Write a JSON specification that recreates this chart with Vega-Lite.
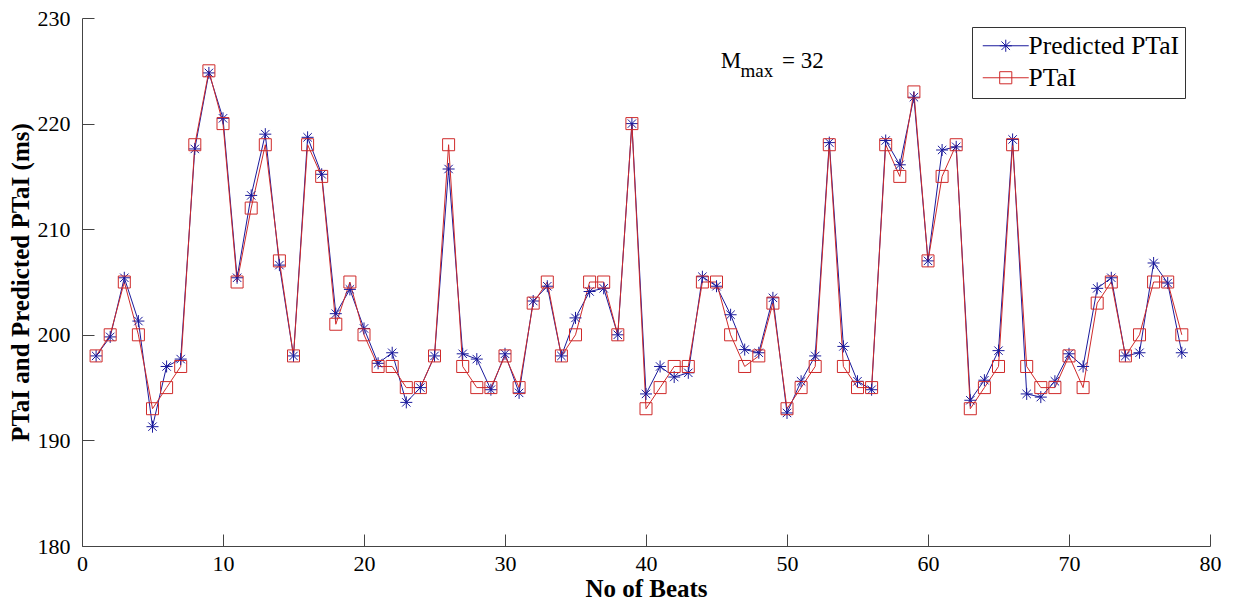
{
  "$schema": "https://vega.github.io/schema/vega-lite/v6.json",
  "width": 1128,
  "height": 528,
  "autosize": {"type": "none"},
  "padding": {"left": 82, "top": 18, "right": 24, "bottom": 64},
  "background": "white",
  "config": {"view": {"stroke": null}, "font": "Liberation Serif"},
  "datasets": {
    "beats": [
      {"beat": 1, "Predicted PTaI": 198, "PTaI": 198},
      {"beat": 2, "Predicted PTaI": 199.8, "PTaI": 200},
      {"beat": 3, "Predicted PTaI": 205.4, "PTaI": 205},
      {"beat": 4, "Predicted PTaI": 201.3, "PTaI": 200},
      {"beat": 5, "Predicted PTaI": 191.3, "PTaI": 193},
      {"beat": 6, "Predicted PTaI": 197, "PTaI": 195},
      {"beat": 7, "Predicted PTaI": 197.7, "PTaI": 197},
      {"beat": 8, "Predicted PTaI": 217.6, "PTaI": 218},
      {"beat": 9, "Predicted PTaI": 224.8, "PTaI": 225},
      {"beat": 10, "Predicted PTaI": 220.5, "PTaI": 220},
      {"beat": 11, "Predicted PTaI": 205.4, "PTaI": 205},
      {"beat": 12, "Predicted PTaI": 213.2, "PTaI": 212},
      {"beat": 13, "Predicted PTaI": 219, "PTaI": 218},
      {"beat": 14, "Predicted PTaI": 206.6, "PTaI": 207},
      {"beat": 15, "Predicted PTaI": 198, "PTaI": 198},
      {"beat": 16, "Predicted PTaI": 218.7, "PTaI": 218},
      {"beat": 17, "Predicted PTaI": 215.2, "PTaI": 215},
      {"beat": 18, "Predicted PTaI": 202, "PTaI": 201},
      {"beat": 19, "Predicted PTaI": 204.3, "PTaI": 205},
      {"beat": 20, "Predicted PTaI": 200.6, "PTaI": 200},
      {"beat": 21, "Predicted PTaI": 197.3, "PTaI": 197},
      {"beat": 22, "Predicted PTaI": 198.3, "PTaI": 197},
      {"beat": 23, "Predicted PTaI": 193.6, "PTaI": 195},
      {"beat": 24, "Predicted PTaI": 195, "PTaI": 195},
      {"beat": 25, "Predicted PTaI": 198, "PTaI": 198},
      {"beat": 26, "Predicted PTaI": 215.7, "PTaI": 218},
      {"beat": 27, "Predicted PTaI": 198.2, "PTaI": 197},
      {"beat": 28, "Predicted PTaI": 197.7, "PTaI": 195},
      {"beat": 29, "Predicted PTaI": 194.8, "PTaI": 195},
      {"beat": 30, "Predicted PTaI": 198.2, "PTaI": 198},
      {"beat": 31, "Predicted PTaI": 194.5, "PTaI": 195},
      {"beat": 32, "Predicted PTaI": 203.2, "PTaI": 203},
      {"beat": 33, "Predicted PTaI": 204.6, "PTaI": 205},
      {"beat": 34, "Predicted PTaI": 198, "PTaI": 198},
      {"beat": 35, "Predicted PTaI": 201.6, "PTaI": 200},
      {"beat": 36, "Predicted PTaI": 204.1, "PTaI": 205},
      {"beat": 37, "Predicted PTaI": 204.4, "PTaI": 205},
      {"beat": 38, "Predicted PTaI": 200, "PTaI": 200},
      {"beat": 39, "Predicted PTaI": 220, "PTaI": 220},
      {"beat": 40, "Predicted PTaI": 194.4, "PTaI": 193},
      {"beat": 41, "Predicted PTaI": 197, "PTaI": 195},
      {"beat": 42, "Predicted PTaI": 196, "PTaI": 197},
      {"beat": 43, "Predicted PTaI": 196.4, "PTaI": 197},
      {"beat": 44, "Predicted PTaI": 205.5, "PTaI": 205},
      {"beat": 45, "Predicted PTaI": 204.6, "PTaI": 205},
      {"beat": 46, "Predicted PTaI": 201.9, "PTaI": 200},
      {"beat": 47, "Predicted PTaI": 198.6, "PTaI": 197},
      {"beat": 48, "Predicted PTaI": 198.3, "PTaI": 198},
      {"beat": 49, "Predicted PTaI": 203.5, "PTaI": 203},
      {"beat": 50, "Predicted PTaI": 192.6, "PTaI": 193},
      {"beat": 51, "Predicted PTaI": 195.6, "PTaI": 195},
      {"beat": 52, "Predicted PTaI": 198, "PTaI": 197},
      {"beat": 53, "Predicted PTaI": 218.2, "PTaI": 218},
      {"beat": 54, "Predicted PTaI": 198.9, "PTaI": 197},
      {"beat": 55, "Predicted PTaI": 195.6, "PTaI": 195},
      {"beat": 56, "Predicted PTaI": 194.8, "PTaI": 195},
      {"beat": 57, "Predicted PTaI": 218.4, "PTaI": 218},
      {"beat": 58, "Predicted PTaI": 216.1, "PTaI": 215},
      {"beat": 59, "Predicted PTaI": 222.5, "PTaI": 223},
      {"beat": 60, "Predicted PTaI": 207, "PTaI": 207},
      {"beat": 61, "Predicted PTaI": 217.5, "PTaI": 215},
      {"beat": 62, "Predicted PTaI": 217.8, "PTaI": 218},
      {"beat": 63, "Predicted PTaI": 193.8, "PTaI": 193},
      {"beat": 64, "Predicted PTaI": 195.7, "PTaI": 195},
      {"beat": 65, "Predicted PTaI": 198.5, "PTaI": 197},
      {"beat": 66, "Predicted PTaI": 218.5, "PTaI": 218},
      {"beat": 67, "Predicted PTaI": 194.4, "PTaI": 197},
      {"beat": 68, "Predicted PTaI": 194.1, "PTaI": 195},
      {"beat": 69, "Predicted PTaI": 195.6, "PTaI": 195},
      {"beat": 70, "Predicted PTaI": 198.2, "PTaI": 198},
      {"beat": 71, "Predicted PTaI": 197, "PTaI": 195},
      {"beat": 72, "Predicted PTaI": 204.4, "PTaI": 203},
      {"beat": 73, "Predicted PTaI": 205.4, "PTaI": 205},
      {"beat": 74, "Predicted PTaI": 198, "PTaI": 198},
      {"beat": 75, "Predicted PTaI": 198.3, "PTaI": 200},
      {"beat": 76, "Predicted PTaI": 206.8, "PTaI": 205},
      {"beat": 77, "Predicted PTaI": 204.9, "PTaI": 205},
      {"beat": 78, "Predicted PTaI": 198.3, "PTaI": 200}
    ],
    "notes": [
      {"beat": 45.3, "value": 225.26, "t": "M"},
      {"beat": 49.65, "value": 225.26, "t": "= 32"}
    ],
    "subs": [
      {"beat": 46.7, "value": 224.4, "t": "max"}
    ]
  },
  "encoding": {
    "x": {
      "field": "beat", "type": "quantitative",
      "scale": {"domain": [0, 80], "nice": false, "zero": false},
      "axis": {
        "title": "No of Beats", "titleFont": "Liberation Serif", "titleFontWeight": "bold",
        "titleFontSize": 25, "titleColor": "black", "titlePadding": 2,
        "values": [0, 10, 20, 30, 40, 50, 60, 70, 80],
        "labelFont": "Liberation Serif", "labelFontSize": 22, "labelColor": "black",
        "labelPadding": 19, "labelFlush": false, "labelOverlap": false,
        "tickSize": -12, "tickColor": "#444", "domainColor": "#444", "grid": false
      }
    },
    "y": {
      "field": "value", "type": "quantitative",
      "scale": {"domain": [180, 230], "nice": false, "zero": false},
      "axis": {
        "title": "PTaI and Predicted PTaI (ms)", "titleFont": "Liberation Serif", "titleFontWeight": "bold",
        "titleFontSize": 25, "titleColor": "black", "titlePadding": 4,
        "values": [180, 190, 200, 210, 220, 230],
        "labelFont": "Liberation Serif", "labelFontSize": 22, "labelColor": "black",
        "labelPadding": 24, "labelFlush": false, "labelOverlap": false,
        "tickSize": -12, "tickColor": "#444", "domainColor": "#444", "grid": false
      }
    },
    "color": {
      "field": "series", "type": "nominal",
      "scale": {"domain": ["Predicted PTaI", "PTaI"], "range": ["#1a1a9c", "#cf2a2a"]},
      "legend": {
        "title": null, "orient": "none", "legendX": 890, "legendY": 9,
        "strokeColor": "#333", "fillColor": "white", "padding": 6,
        "labelFont": "Liberation Serif", "labelFontSize": 25.5, "labelColor": "black",
        "symbolSize": 484, "symbolOffset": 15, "labelOffset": 10, "rowPadding": 5,
        "symbolStrokeWidth": 1,
        "encode": {
          "symbols": {
            "update": {
              "shape": {"signal": "datum.value === 'PTaI' ? 'M-2.09,0H2.09M-0.55,-0.55H0.55V0.55H-0.55Z' : 'M-2.09,0H2.09M-0.55,0H0.55M0,-0.55V0.55M-0.39,-0.39L0.39,0.39M-0.39,0.39L0.39,-0.39'"},
              "fill": {"value": "transparent"},
              "strokeWidth": {"value": 1}
            }
          }
        }
      }
    }
  },
  "layer": [
    {
      "data": {"name": "beats"},
      "transform": [{"fold": ["Predicted PTaI", "PTaI"], "as": ["series", "value"]}],
      "mark": {"type": "line", "strokeWidth": 1}
    },
    {
      "data": {"name": "beats"},
      "transform": [
        {"fold": ["Predicted PTaI", "PTaI"], "as": ["series", "value"]},
        {"filter": "datum.series === 'Predicted PTaI'"}
      ],
      "mark": {"type": "point", "filled": false, "strokeWidth": 1, "size": 144, "opacity": 1, "shape": "M-1,0H1M0,-1V1M-0.7,-0.7L0.7,0.7M-0.7,0.7L0.7,-0.7"}
    },
    {
      "data": {"name": "beats"},
      "transform": [
        {"fold": ["Predicted PTaI", "PTaI"], "as": ["series", "value"]},
        {"filter": "datum.series === 'PTaI'"}
      ],
      "mark": {"type": "point", "filled": false, "strokeWidth": 1, "size": 144, "opacity": 1, "shape": "square"}
    },
    {
      "data": {"name": "notes"},
      "mark": {"type": "text", "align": "left", "baseline": "alphabetic", "fontSize": 23, "font": "Liberation Serif", "color": "black"},
      "encoding": {"text": {"field": "t"}, "color": {"value": "black"}}
    },
    {
      "data": {"name": "subs"},
      "mark": {"type": "text", "align": "left", "baseline": "alphabetic", "fontSize": 19, "font": "Liberation Serif", "color": "black"},
      "encoding": {"text": {"field": "t"}, "color": {"value": "black"}}
    }
  ]
}
